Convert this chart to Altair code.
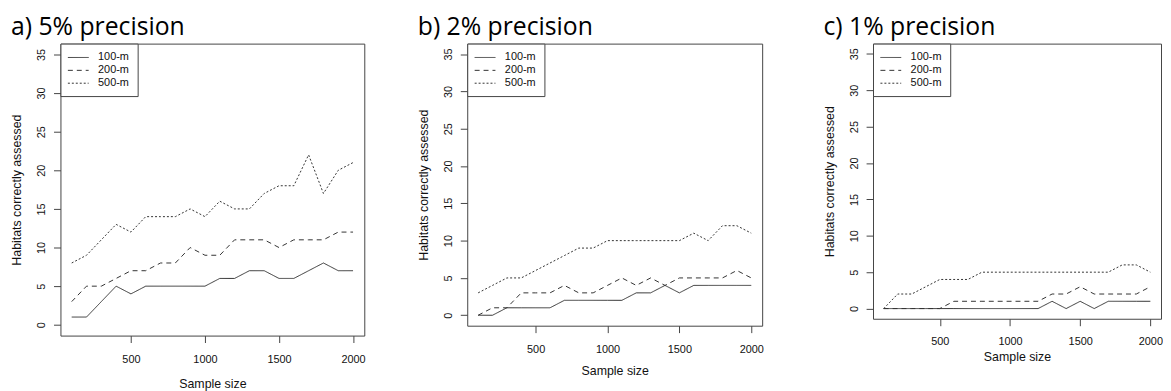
import altair as alt
import pandas as pd

sample_size = list(range(100, 2001, 100))
series_names = ["100-m", "200-m", "500-m"]

a_100 = [1, 1, 3, 5, 4, 5, 5, 5, 5, 5, 6, 6, 7, 7, 6, 6, 7, 8, 7, 7]
a_200 = [3, 5, 5, 6, 7, 7, 8, 8, 10, 9, 9, 11, 11, 11, 10, 11, 11, 11, 12, 12]
a_500 = [8, 9, 11, 13, 12, 14, 14, 14, 15, 14, 16, 15, 15, 17, 18, 18, 22, 17, 20, 21]

b_100 = [0, 0, 1, 1, 1, 1, 2, 2, 2, 2, 2, 3, 3, 4, 3, 4, 4, 4, 4, 4]
b_200 = [0, 1, 1, 3, 3, 3, 4, 3, 3, 4, 5, 4, 5, 4, 5, 5, 5, 5, 6, 5]
b_500 = [3, 4, 5, 5, 6, 7, 8, 9, 9, 10, 10, 10, 10, 10, 10, 11, 10, 12, 12, 11]

c_100 = [0, 0, 0, 0, 0, 0, 0, 0, 0, 0, 0, 0, 1, 0, 1, 0, 1, 1, 1, 1]
c_200 = [0, 0, 0, 0, 0, 1, 1, 1, 1, 1, 1, 1, 2, 2, 3, 2, 2, 2, 2, 3]
c_500 = [0, 2, 2, 3, 4, 4, 4, 5, 5, 5, 5, 5, 5, 5, 5, 5, 5, 6, 6, 5]

x_ticks = [500, 1000, 1500, 2000]
y_ticks = [0, 5, 10, 15, 20, 25, 30, 35]

LINE = "#333333"
AXIS = "#444444"
FONT = "Liberation Sans"


def panel(title, s100, s200, s500, w, h, xlabpad, xtitlepad):
    df = pd.DataFrame({
        "size": sample_size * 3,
        "value": s100 + s200 + s500,
        "series": [n for n in series_names for _ in sample_size],
    })
    return alt.Chart(
        df,
        title=alt.Title(title, anchor="start", frame="bounds", font="Open Sans",
                        fontSize=25, fontWeight="normal", color="#000000", offset=3),
    ).mark_line(color=LINE, strokeWidth=1).encode(
        x=alt.X("size:Q",
                scale=alt.Scale(domain=[24, 2076], nice=False, zero=False),
                axis=alt.Axis(values=x_ticks, format="d", title="Sample size", grid=False,
                              domain=False, tickSize=7, tickColor=AXIS, labelPadding=xlabpad,
                              labelFont=FONT, labelFontSize=11, labelColor="#111111",
                              titleFont=FONT, titleFontSize=12.5, titleFontWeight="normal",
                              titleColor="#111111", titlePadding=xtitlepad)),
        y=alt.Y("value:Q",
                scale=alt.Scale(domain=[-1.4, 36.4], nice=False, zero=False),
                axis=alt.Axis(values=y_ticks, title="Habitats correctly assessed", grid=False,
                              domain=False, tickSize=7, tickColor=AXIS, labelAngle=270,
                              labelAlign="center", labelBaseline="bottom", labelPadding=7,
                              labelFont=FONT, labelFontSize=11, labelColor="#111111",
                              titleFont=FONT, titleFontSize=12.5, titleFontWeight="normal",
                              titleColor="#111111", titlePadding=12)),
        strokeDash=alt.StrokeDash(
            "series:N",
            scale=alt.Scale(domain=series_names, range=[[1, 0], [5, 4], [2, 2]]),
            legend=alt.Legend(title=None, orient="top-left", offset=0, padding=8,
                              strokeColor=AXIS, fillColor="white",
                              symbolType="M-2,0L2,0", symbolOffset=4,
                              symbolSize=110, symbolStrokeWidth=1, symbolStrokeColor=LINE,
                              labelFont=FONT, labelFontSize=11, labelColor="#111111",
                              labelOffset=14, rowPadding=2),
        ),
    ).properties(width=w, height=h)


pa = panel("a) 5% precision", a_100, a_200, a_500, 307, 295, 11, 13)
pb = panel("b) 2% precision", b_100, b_200, b_500, 298, 285, 11, 10)
pc = panel("c) 1% precision", c_100, c_200, c_500, 291, 278, 10, 4)

inner = alt.hconcat(pa, pb, spacing=51).resolve_legend(strokeDash="independent")
chart = alt.hconcat(inner, pc, spacing=59).resolve_legend(
    strokeDash="independent"
).properties(
    padding={"left": 2, "top": 5, "right": 0, "bottom": 0}
).configure(background="white").configure_view(stroke=AXIS, strokeWidth=1)

chart.save("out.html", embed_options={"renderer": "svg", "actions": False})
